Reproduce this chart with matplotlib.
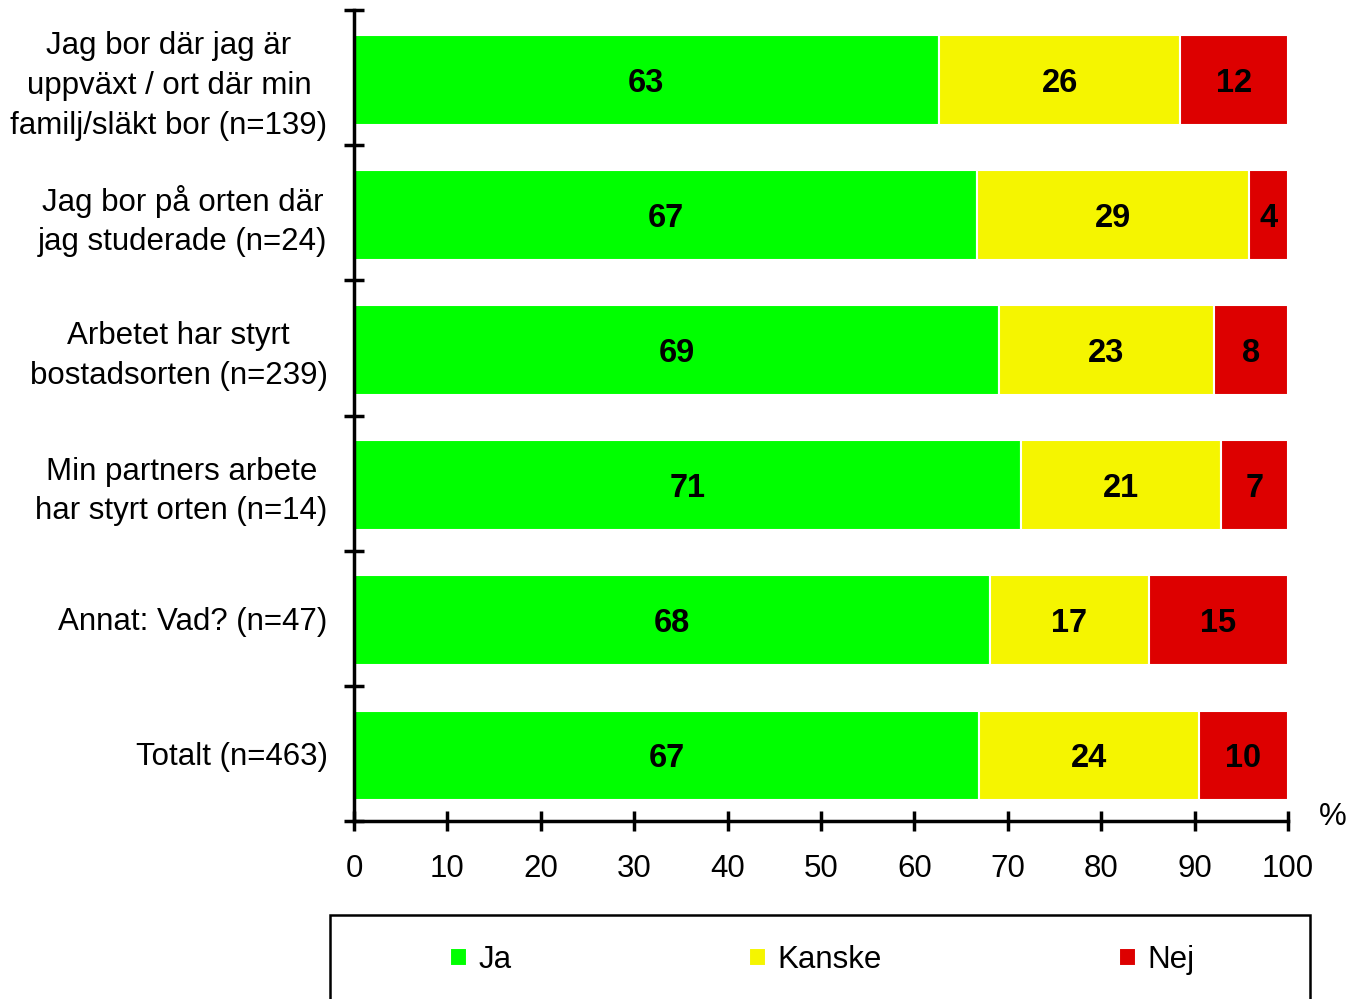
import numpy as np
import matplotlib
matplotlib.use("Agg")
import matplotlib.pyplot as plt
from matplotlib.patches import Rectangle

plt.rcParams['font.family'] = ['Liberation Sans', 'DejaVu Sans']

categories = [
    "Jag bor där jag är\nuppväxt / ort där min\nfamilj/släkt bor (n=139)",
    "Jag bor på orten där\njag studerade (n=24)",
    "Arbetet har styrt\nbostadsorten (n=239)",
    "Min partners arbete\nhar styrt orten (n=14)",
    "Annat: Vad? (n=47)",
    "Totalt (n=463)",
]
ja = [62.59, 66.67, 69.04, 71.43, 68.09, 66.95]
kanske = [25.90, 29.17, 23.01, 21.43, 17.02, 23.54]
nej = [11.51, 4.17, 7.95, 7.14, 14.89, 9.50]
series_names = ["Ja", "Kanske", "Nej"]
colors = ["#00FF00", "#F5F500", "#DD0000"]

fig = plt.figure(figsize=(13.5, 9.99), dpi=100)
ax = fig.add_axes([354 / 1350, 1 - 821 / 999, 934 / 1350, 811 / 999])

y = np.arange(len(categories))
left = np.zeros(len(categories))
conts = []
for vals, name, col in zip([ja, kanske, nej], series_names, colors):
    c = ax.barh(y + 0.015, vals, left=left, height=0.665, color=col,
                edgecolor="white", linewidth=1.5, label=name)
    anns = ax.bar_label(c, labels=[f"{v:.0f}" for v in vals], label_type="center",
                        fontsize=23.5, fontweight="bold", color="black")
    for a in anns:
        a.set_va("center_baseline")
    left += np.array(vals)
    conts.append(c)

ax.set_xlim(0, 100)
ax.set_ylim(5.5, -0.5)

for s in ["top", "right"]:
    ax.spines[s].set_visible(False)
for s in ["left", "bottom"]:
    ax.spines[s].set_linewidth(2.5)

ax.set_xticks(np.arange(0, 101, 10))
ax.tick_params(axis="x", direction="inout", length=14, width=2.5,
               labelsize=22.5, pad=17)

ax.set_yticks(np.arange(-0.5, 6, 1))
ax.set_yticklabels([])
ax.set_yticks(y, minor=True)
ax.set_yticklabels(categories, minor=True, fontsize=22.5,
                   multialignment="center", linespacing=1.42)
ax.tick_params(axis="y", which="major", direction="inout", length=14, width=2.5)
ax.tick_params(axis="y", which="minor", length=0, pad=19)

# "%" sits just right of the x axis end
fig.text(1333 / 1350, 1 - 817 / 999, "%", fontsize=22.5, ha="center", va="center")

# legend frame, running off the bottom of the figure
fig.patches.append(Rectangle((330 / 1350, -0.05), 980 / 1350, 0.05 + 1 - 915 / 999,
                             transform=fig.transFigure, fill=False,
                             edgecolor="black", linewidth=1.8))
fig.legend(handles=conts, labels=series_names, ncol=3, loc="center",
           bbox_to_anchor=(822 / 1350, 1 - 960 / 999), frameon=False,
           fontsize=22.5, handlelength=0.55, handleheight=0.55,
           handletextpad=0.35, columnspacing=7.6)

fig.savefig("out.png", dpi=100)
